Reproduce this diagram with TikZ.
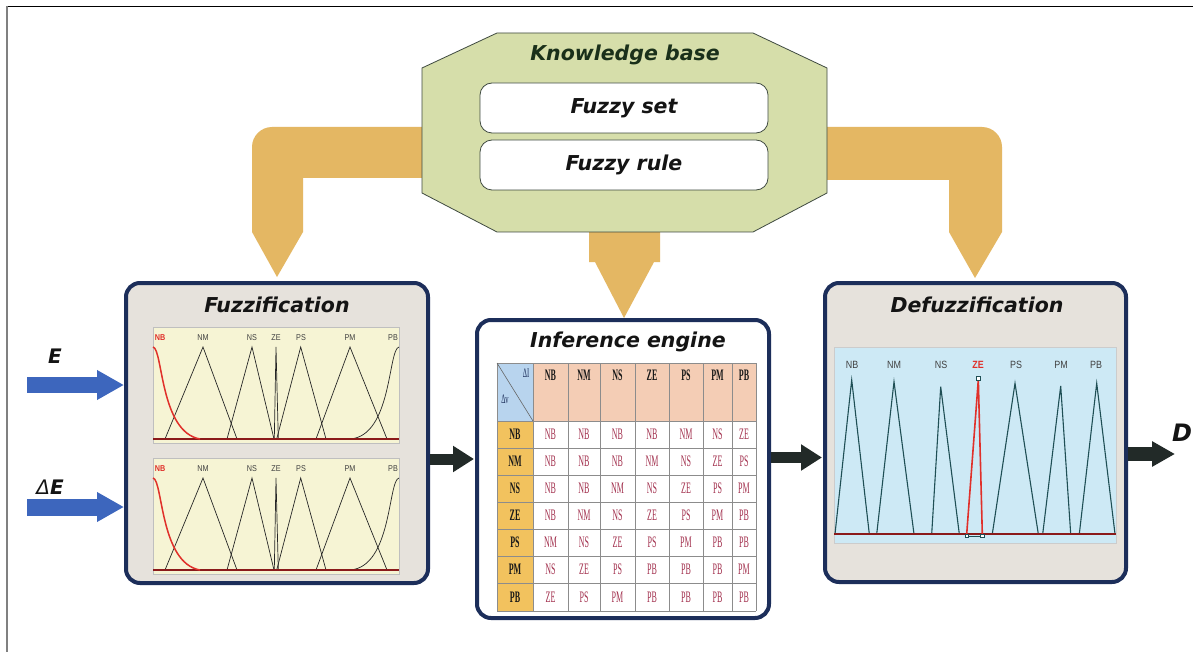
\documentclass[tikz,border=0pt]{standalone}
\usepackage{fontspec}
\setmainfont{DejaVu Sans}
\newfontfamily\condf{Liberation Serif}[FakeStretch=0.5]
\newfontfamily\plotf{Liberation Sans}[FakeStretch=0.85]
\usetikzlibrary{arrows.meta,calc}
\definecolor{navy}{HTML}{1C2E5A}
\definecolor{panelbg}{HTML}{E6E2DC}
\definecolor{kbfill}{HTML}{D6DEAA}
\definecolor{kbline}{HTML}{3F4A40}
\definecolor{kbtext}{HTML}{1A301A}
\definecolor{orng}{HTML}{E4B763}
\definecolor{titlec}{HTML}{141414}
\definecolor{bluearr}{HTML}{3D66BD}
\definecolor{blackarr}{HTML}{222A28}
\definecolor{plotbg}{HTML}{F6F4D4}
\definecolor{defbg}{HTML}{CDE9F5}
\definecolor{darkred}{HTML}{8B1A1A}
\definecolor{nbred}{HTML}{E0302A}
\definecolor{teal}{HTML}{1F4F55}
\definecolor{salmon}{HTML}{F4CDB5}
\definecolor{gold}{HTML}{F2C25E}
\definecolor{cornerblue}{HTML}{B8D4EE}
\definecolor{cellred}{HTML}{A3324F}
\newcommand\ttlfnt{\fontsize{20.5}{24}\selectfont\bfseries\itshape}
\tikzset{
  panel/.style={draw=navy, line width=4pt, rounded corners=14pt, inner sep=0pt},
  ttl/.style={font=\ttlfnt, text=titlec, inner sep=0pt},
  kbbox/.style={draw=kbline, line width=0.8pt, fill=white, rounded corners=12pt,
    minimum width=288pt, minimum height=50pt, font=\ttlfnt, text=titlec},
  flab/.style={font=\plotf\fontsize{8.5}{10}\selectfont, text=black!75, inner sep=0pt},
  dlab/.style={font=\plotf\fontsize{10.5}{12}\selectfont, text=black!75, inner sep=0pt},
  memb/.style={line width=0.7pt, black!85},
  dmemb/.style={line width=1.1pt, teal},
  hdr/.style={font=\condf\bfseries\fontsize{16}{18}\selectfont, text=black!90, inner sep=0pt},
  cell/.style={font=\condf\fontsize{16}{18}\selectfont, text=cellred, inner sep=0pt},
  grid/.style={black!45, line width=0.6pt},
}
\begin{document}
\begin{tikzpicture}[x=1pt,y=-1pt]
\useasboundingbox (0,0) rectangle (1193,652);
\fill[white] (0,0) rectangle (1193,652);
% outer frame
\draw[black, line width=0.8pt] (7,6) -- (1193,6);
\draw[black!50, line width=1.5pt] (7,6) -- (7,652);

% orange arrows (behind knowledge base)
\fill[orng] (440,127) -- (272,127) .. controls (261,127) and (252,136) .. (252,147)
  -- (252,232) -- (277,277) -- (303,232) -- (303,178) -- (440,178) -- cycle;
\fill[orng] (810,127) -- (982,127) .. controls (993,127) and (1002,136) .. (1002,147)
  -- (1002,232) -- (975,278) -- (949,232) -- (949,180) -- (810,180) -- cycle;
\fill[orng] (589,222) -- (660,222) -- (660,262) -- (654,262) -- (624,318)
  -- (595,262) -- (589,262) -- cycle;

% knowledge base octagon
\draw[kbline, line width=0.8pt, fill=kbfill] (497,33) -- (753,33) -- (827,68) -- (827,193)
  -- (753,232) -- (497,232) -- (422,193) -- (422,68) -- cycle;
\node[ttl, text=kbtext] (kbt) at (625,55) {Knowledge base};
\node[kbbox] (fs) at (624,108) {Fuzzy set};
\node[kbbox] (fr) at (624,165) {Fuzzy rule};

% panels
\node[panel, fill=panelbg, minimum width=302pt, minimum height=300pt] (fuzz) at (277,433) {};
\node[panel, fill=white, minimum width=292pt, minimum height=298pt] (inf) at (623,469) {};
\node[panel, fill=panelbg, minimum width=301pt, minimum height=299pt] (defz) at (975.5,432.5) {};
\node[ttl] (fuzzt) at (277,305) {Fuzzification};
\node[ttl] (inft) at (628,342) {Inference engine};
\node[ttl] (defzt) at (977,305) {Defuzzification};

% fuzzification plots
\foreach \dy/\nm in {0/a,131/b}{
\begin{scope}[shift={(0,\dy)}]
  \fill[plotbg] (153,327) rectangle (399,443);
  \draw[black!25, line width=0.4pt] (153,327) rectangle (399,443);
  \node[flab, text=nbred, font=\plotf\bfseries\fontsize{8.5}{10}\selectfont] (nb\nm) at (160,338) {NB};
  \node[flab] (nm\nm) at (203,338) {NM};
  \node[flab] (ns\nm) at (252,338) {NS};
  \node[flab] (ze\nm) at (276,338) {ZE};
  \node[flab] (ps\nm) at (301,338) {PS};
  \node[flab] (pm\nm) at (350,338) {PM};
  \node[flab] (pb\nm) at (393,338) {PB};
  \draw[memb] (165,439) -- (203,347) -- (237,439);
  \draw[memb] (227,439) -- (252,347) -- (274,439);
  \draw[memb] (274.3,439) -- (276,347) -- (278.3,439);
  \draw[memb] (276.7,439) -- (300.7,347) -- (326,439);
  \draw[memb] (316,439) -- (350,347) -- (387,439);
  \draw[memb] (350,439) .. controls (392,436) and (388,349) .. (399,347);
  \draw[line width=1.8pt, darkred] (153,439) -- (399,439);
  \draw[line width=1.5pt, nbred] (153,347) .. controls (163,349) and (160,432) .. (200,439);
\end{scope}
}

% defuzzification plot
\fill[defbg] (834,347) rectangle (1116,543);
\draw[black!20, line width=0.4pt] (834,347) rectangle (1116,543);
\node[dlab] (dnb) at (852,365) {NB};
\node[dlab] (dnm) at (894,365) {NM};
\node[dlab] (dns) at (941,365) {NS};
\node[dlab, text=nbred, font=\plotf\bfseries\fontsize{10.5}{12}\selectfont] (dze) at (978,365) {ZE};
\node[dlab] (dps) at (1016,365) {PS};
\node[dlab] (dpm) at (1061,365) {PM};
\node[dlab] (dpb) at (1096,365) {PB};
\draw[dmemb] (835,534) -- (851.7,380) -- (869.3,534);
\draw[dmemb] (876.7,534) -- (894,381.7) -- (914,534);
\draw[dmemb] (931.7,534) -- (940.7,386.7) -- (959.3,534);
\draw[dmemb] (992.3,534) -- (1015,383.3) -- (1038.3,534);
\draw[dmemb] (1042.7,534) -- (1060.7,386) -- (1070.7,534);
\draw[dmemb] (1079.3,534) -- (1096.7,383.3) -- (1115,534);
\draw[line width=1.8pt, darkred] (834,534) -- (1116,534);
\draw[teal, line width=1pt] (966.7,536) -- (982.3,536);
\draw[line width=1.6pt, nbred] (966.7,534) -- (978.3,380) -- (982.3,534);
\draw[teal, line width=0.6pt, fill=white] (976.5,376) rectangle (980,380);
\draw[teal, line width=0.6pt, fill=white] (965,534) rectangle (968.5,537.5);
\draw[teal, line width=0.6pt, fill=white] (980.5,534) rectangle (984,537.5);

% inference table
\fill[salmon] (533,363) rectangle (756,421);
\fill[cornerblue] (497,363) rectangle (533,421);
\fill[gold] (497,421) rectangle (533,611);
\foreach \x in {497,533,568,600,635,669,703,732,756}
  \draw[grid] (\x,363) -- (\x,611);
\foreach \y in {363,421,448,475,502,529,556,583,611}
  \draw[grid] (497,\y) -- (756,\y);
\draw[grid, black!60] (497,363) -- (533,421);
\node[font=\condf\fontsize{13}{15}\selectfont, text=navy, inner sep=0pt] (dI) at (526,373) {ΔI};
\node[font=\condf\fontsize{13}{15}\selectfont, text=navy, inner sep=0pt] (dV) at (505,399) {Δv};
\foreach \lab [count=\c] in {NB,NM,NS,ZE,PS,PM,PB}{
  \pgfmathsetmacro\xc{{550.5,584,617.5,652,686,717.5,744}[\c-1]}
  \node[hdr] (h-\c) at (\xc,375) {\lab};
}
\foreach \r/\yc/\lab/\vals in {
  1/434.5/NB/{NB,NB,NB,NB,NM,NS,ZE},
  2/461.5/NM/{NB,NB,NB,NM,NS,ZE,PS},
  3/488.5/NS/{NB,NB,NM,NS,ZE,PS,PM},
  4/515.5/ZE/{NB,NM,NS,ZE,PS,PM,PB},
  5/542.5/PS/{NM,NS,ZE,PS,PM,PB,PB},
  6/569.5/PM/{NS,ZE,PS,PB,PB,PB,PM},
  7/597/PB/{ZE,PS,PM,PB,PB,PB,PB}}{
  \node[hdr] (r-\r) at (515,\yc) {\lab};
  \foreach \v [count=\c] in \vals {
    \pgfmathsetmacro\xc{{550.5,584,617.5,652,686,717.5,744}[\c-1]}
    \node[cell] (c-\r-\c) at (\xc,\yc) {\v};
  }
}

% inputs
\coordinate (ein) at (27,385);
\coordinate (dein) at (27,507);
\coordinate (dout) at (1175,454);
\node[font=\fontsize{20}{22}\selectfont\bfseries\itshape, text=titlec, inner sep=0pt] (elab) at (55,356) {E};
\node[font=\fontsize{20}{22}\selectfont, text=titlec, inner sep=0pt] (delab) at (50,487) {\itshape Δ\bfseries E};
\node[font=\fontsize{24}{26}\selectfont\bfseries\itshape, text=titlec, inner sep=0pt] (dlab) at (1182,433) {D};
\draw[bluearr, line width=16pt, -{Triangle[length=27pt, width=28pt]}] (ein) -- (fuzz.west |- ein);
\draw[bluearr, line width=17pt, -{Triangle[length=27pt, width=28pt]}] (dein) -- (fuzz.west |- dein);
\draw[blackarr, line width=11pt, -{Triangle[length=21pt, width=25pt]}]
  ($(fuzz.east)+(0,26)$) -- ($(inf.west |- fuzz.east)+(-1,26)$);
\draw[blackarr, line width=11pt, -{Triangle[length=21pt, width=25pt]}]
  ($(inf.east |- defz.east)+(0,25)$) -- ($(defz.west)+(-1,25)$);
\draw[blackarr, line width=14pt, -{Triangle[length=23pt, width=24pt]}] (defz.east |- dout) -- (dout);
\end{tikzpicture}
\end{document}
